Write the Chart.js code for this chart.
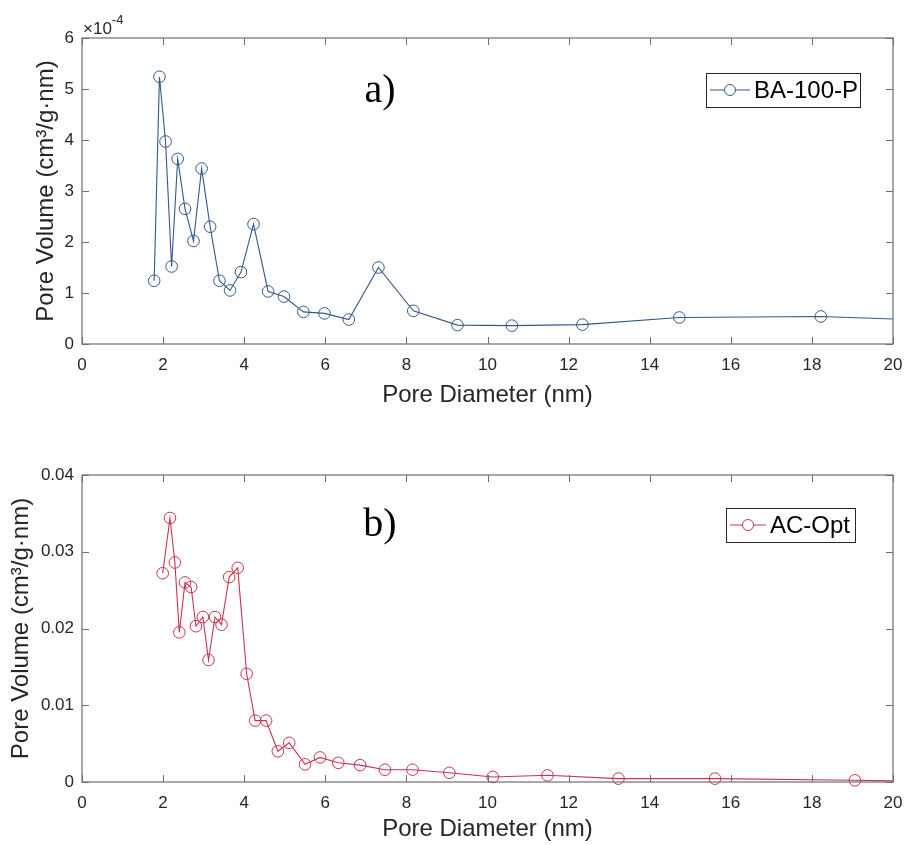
<!DOCTYPE html>
<html>
<head>
<meta charset="utf-8">
<script src="https://cdn.jsdelivr.net/npm/chart.js@4.4.1/dist/chart.umd.min.js"></script>
<style>
  html, body { margin: 0; padding: 0; background: #ffffff; }
  #wrap { position: relative; width: 907px; height: 845px; background: #ffffff; }
  #c1 { position: absolute; left: 0; top: 0; }
  #c2 { position: absolute; left: 0; top: 420px; }
</style>
</head>
<body>
<div id="wrap">
  <canvas id="c1" width="907" height="420"></canvas>
  <canvas id="c2" width="907" height="425"></canvas>
</div>
<script>
// ---- Data ----
// a) BA-100-P : pore diameter (nm) and pore volume (cm3/g.nm)
const baDiameter = [1.78, 1.91, 2.06, 2.21, 2.36, 2.54, 2.75, 2.95, 3.16, 3.39, 3.65, 3.92, 4.23, 4.59, 4.98, 5.46, 5.98, 6.58, 7.31, 8.17, 9.26, 10.60, 12.34, 14.73, 18.22, 23.0];
const baVolume = [1.24e-4, 5.24e-4, 3.97e-4, 1.52e-4, 3.63e-4, 2.65e-4, 2.02e-4, 3.44e-4, 2.30e-4, 1.24e-4, 1.05e-4, 1.41e-4, 2.35e-4, 1.03e-4, 0.93e-4, 0.63e-4, 0.60e-4, 0.48e-4, 1.50e-4, 0.65e-4, 0.37e-4, 0.36e-4, 0.38e-4, 0.52e-4, 0.54e-4, 0.41e-4];

// b) AC-Opt
const acDiameter = [1.99, 2.17, 2.29, 2.40, 2.54, 2.69, 2.81, 2.98, 3.12, 3.28, 3.44, 3.63, 3.84, 4.06, 4.27, 4.54, 4.83, 5.11, 5.50, 5.87, 6.32, 6.86, 7.47, 8.15, 9.06, 10.13, 11.48, 13.23, 15.61, 19.06, 22.0];
const acVolume = [0.0272, 0.0344, 0.0286, 0.0195, 0.0260, 0.0254, 0.0203, 0.0215, 0.0159, 0.0215, 0.0205, 0.0267, 0.0279, 0.0141, 0.0080, 0.0080, 0.0040, 0.0051, 0.0023, 0.0032, 0.0025, 0.0022, 0.0016, 0.0016, 0.0012, 0.00066, 0.00087, 0.00044, 0.00044, 0.00022, 0.00001];

// axis / tick settings
const xTickStep = 2, xMin = 0, xMax = 20;
const aYMax = 6e-4, aYStep = 1e-4;
const bYMax = 0.04, bYStep = 0.01;
const seriesNames = ['BA-100-P', 'AC-Opt'];
const panelLabels = ['a)', 'b)'];
const xTitle = 'Pore Diameter (nm)';
const yTitle = 'Pore Volume (cm\u00B3/g\u00B7nm)';

const SANS = '"Liberation Sans", Arial, Helvetica, sans-serif';
const SERIF = '"Liberation Serif", "Times New Roman", serif';
const BLUE = '#33598a';
const RED = '#c8344f';
const TXT = '#262626';
const FRAME = '#6e6e6e';

function pts(xs, ys) { return xs.map((x, i) => ({ x: x, y: ys[i] })); }

const framePlugin = {
  id: 'frame',
  afterDatasetsDraw(chart, args, o) {
    const { ctx, chartArea: a, scales } = chart;
    const x = scales.x, y = scales.y;
    ctx.save();
    // frame box
    ctx.strokeStyle = FRAME;
    ctx.lineWidth = 1.2;
    ctx.strokeRect(a.left, a.top, a.right - a.left, a.bottom - a.top);
    // inward ticks on all four sides
    const L = 7;
    ctx.beginPath();
    x.ticks.forEach(t => {
      const px = Math.round(x.getPixelForValue(t.value)) + 0.5;
      ctx.moveTo(px, a.bottom); ctx.lineTo(px, a.bottom - L);
      ctx.moveTo(px, a.top); ctx.lineTo(px, a.top + L);
    });
    y.ticks.forEach(t => {
      const py = Math.round(y.getPixelForValue(t.value)) + 0.5;
      ctx.moveTo(a.left, py); ctx.lineTo(a.left + L, py);
      ctx.moveTo(a.right, py); ctx.lineTo(a.right - L, py);
    });
    ctx.lineWidth = 1;
    ctx.stroke();

    // panel label
    ctx.fillStyle = '#000';
    ctx.font = '40px ' + SERIF;
    ctx.textAlign = 'center';
    ctx.textBaseline = 'middle';
    ctx.fillText(o.panel, o.panelX, o.panelY);

    // scale exponent
    if (o.sci) {
      ctx.fillStyle = TXT;
      ctx.textAlign = 'left';
      ctx.textBaseline = 'alphabetic';
      ctx.font = '17px ' + SANS;
      ctx.fillText('\u00D710', a.left + 1, a.top - 4);
      const w = ctx.measureText('\u00D710').width;
      ctx.font = '13px ' + SANS;
      ctx.fillText('-4', a.left + 1 + w, a.top - 14);
    }

    // legend
    const [lx, ly, lw, lh] = o.box;
    ctx.fillStyle = '#ffffff';
    ctx.fillRect(lx, ly, lw, lh);
    ctx.strokeStyle = TXT;
    ctx.lineWidth = 1;
    ctx.strokeRect(lx + 0.5, ly + 0.5, lw, lh);
    const cy = ly + lh / 2;
    ctx.strokeStyle = o.color;
    ctx.beginPath();
    ctx.moveTo(lx + 4, cy); ctx.lineTo(lx + 4 + o.lineLen, cy);
    ctx.stroke();
    ctx.beginPath();
    ctx.arc(lx + 4 + o.lineLen / 2, cy, 5.5, 0, Math.PI * 2);
    ctx.fillStyle = '#ffffff';
    ctx.fill();
    ctx.stroke();
    ctx.fillStyle = '#000';
    ctx.font = '24px ' + SANS;
    ctx.textAlign = 'left';
    ctx.textBaseline = 'middle';
    ctx.fillText(o.label, lx + 4 + o.lineLen + 4, cy + 1);
    ctx.restore();
  }
};

function makeChart(id, data, color, yMax, yStep, tickFmt, cfg) {
  return new Chart(document.getElementById(id), {
    type: 'line',
    data: {
      datasets: [{
        label: cfg.label,
        data: data,
        borderColor: color,
        borderWidth: 1.1,
        pointStyle: 'circle',
        pointRadius: 5.8,
        pointBorderWidth: 1,
        pointBorderColor: color,
        pointBackgroundColor: 'rgba(0,0,0,0)',
        tension: 0,
        fill: false,
        clip: { left: 0, right: 0, top: 10, bottom: 10 }
      }]
    },
    options: {
      responsive: false,
      animation: false,
      events: [],
      layout: { padding: { left: 0, right: 14, top: cfg.padTop, bottom: 0 } },
      plugins: {
        legend: { display: false },
        tooltip: { enabled: false },
        frame: cfg.frame
      },
      scales: {
        x: {
          type: 'linear',
          min: xMin, max: xMax,
          grid: { display: false, drawTicks: false },
          border: { display: false },
          ticks: {
            stepSize: xTickStep,
            color: TXT,
            font: { family: SANS, size: 17 },
            padding: 11,
            maxRotation: 0,
            callback: v => String(v)
          },
          title: {
            display: true, text: xTitle, color: TXT,
            font: { family: SANS, size: 24 },
            padding: { top: 0, bottom: cfg.xTitlePad }
          },
          afterFit: s => { s.height = cfg.xHeight; s.paddingLeft = 0; s.paddingRight = 0; }
        },
        y: {
          type: 'linear',
          min: 0, max: yMax,
          grid: { display: false, drawTicks: false },
          border: { display: false },
          ticks: {
            stepSize: yStep,
            color: TXT,
            font: { family: SANS, size: 17 },
            padding: 8,
            callback: tickFmt
          },
          title: {
            display: true, text: yTitle, color: TXT,
            font: { family: SANS, size: 24 },
            padding: { top: cfg.yTitlePad, bottom: 0 }
          },
          afterFit: s => { s.width = 82; s.paddingTop = 0; s.paddingBottom = 0; }
        }
      }
    },
    plugins: [framePlugin]
  });
}

makeChart('c1', pts(baDiameter, baVolume), BLUE, aYMax, aYStep,
  v => String(Math.round(v / aYStep)),
  {
    label: seriesNames[0], padTop: 38, xHeight: 76, xTitlePad: 10, yTitlePad: 32,
    frame: { panel: panelLabels[0], panelX: 380, panelY: 91, sci: true,
             box: [706, 73, 154, 34], color: BLUE, lineLen: 40, label: seriesNames[0] }
  });

makeChart('c2', pts(acDiameter, acVolume), RED, bYMax, bYStep,
  v => (Math.abs(v) < 1e-9 ? '0' : v.toFixed(2)),
  {
    label: seriesNames[1], padTop: 55, xHeight: 63, xTitlePad: 1, yTitlePad: 7,
    frame: { panel: panelLabels[1], panelX: 380, panelY: 105, sci: false,
             box: [726, 88, 129, 34], color: RED, lineLen: 36, label: seriesNames[1] }
  });
</script>
</body>
</html>
